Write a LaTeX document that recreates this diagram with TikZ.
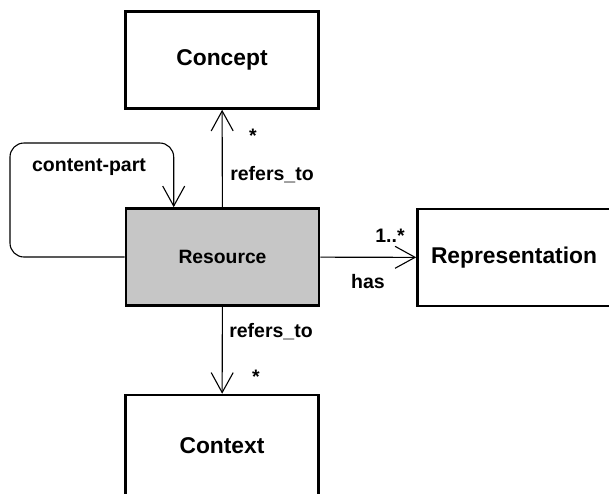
\documentclass[tikz,border=0pt]{standalone}
\usepackage{fontspec}
\setmainfont{Liberation Sans}
\usetikzlibrary{arrows.meta,positioning,calc}

\begin{document}
\begin{tikzpicture}[x=1pt,y=-1pt]
        \tikzstyle{entity}=[draw=black, line width=2.6pt, minimum width=193pt, minimum height=97pt, font=\bfseries\fontsize{22.8}{26}\selectfont];
        \tikzstyle{link}=[line width=1.1pt, -{Straight Barb[length=20pt, width=22pt]}];
        \tikzstyle{lbl}=[font=\bfseries\fontsize{19.5}{23}\selectfont];

        \useasboundingbox (0,0) rectangle (609,493);

        \node[entity] (con) at (222, 60) {Concept};
        \node[entity, fill=gray!45, font=\bfseries\fontsize{19.3}{23}\selectfont] (res) at (222.5, 257) {Resource};
        \node[entity] (rep) at (514, 257.5) {Representation};
        \node[entity, minimum height=102pt] (ctx) at (222, 446) {Context};

        \coordinate (lp) at (10, 143);
        \coordinate (lpin) at ($(res.north west)+(49,0)$);

        \draw[link] (res) -- (con);
        \draw[link] (res) -- (rep);
        \draw[link] (res) -- (ctx);
        \draw[link, rounded corners=14pt] (res.west) -| (lp) -| (lpin);

        \node[lbl] (m1) at (253, 136) {*};
        \node[lbl] (r1) at (272, 175) {refers\_to};
        \node[lbl] (m2) at (390, 236) {1..*};
        \node[lbl] (h1) at (368, 282) {has};
        \node[lbl] (r2) at (271, 332) {refers\_to};
        \node[lbl] (m3) at (256, 377) {*};
        \node[lbl] (cp) at (89, 167) {content-part};
\end{tikzpicture}
\end{document}
